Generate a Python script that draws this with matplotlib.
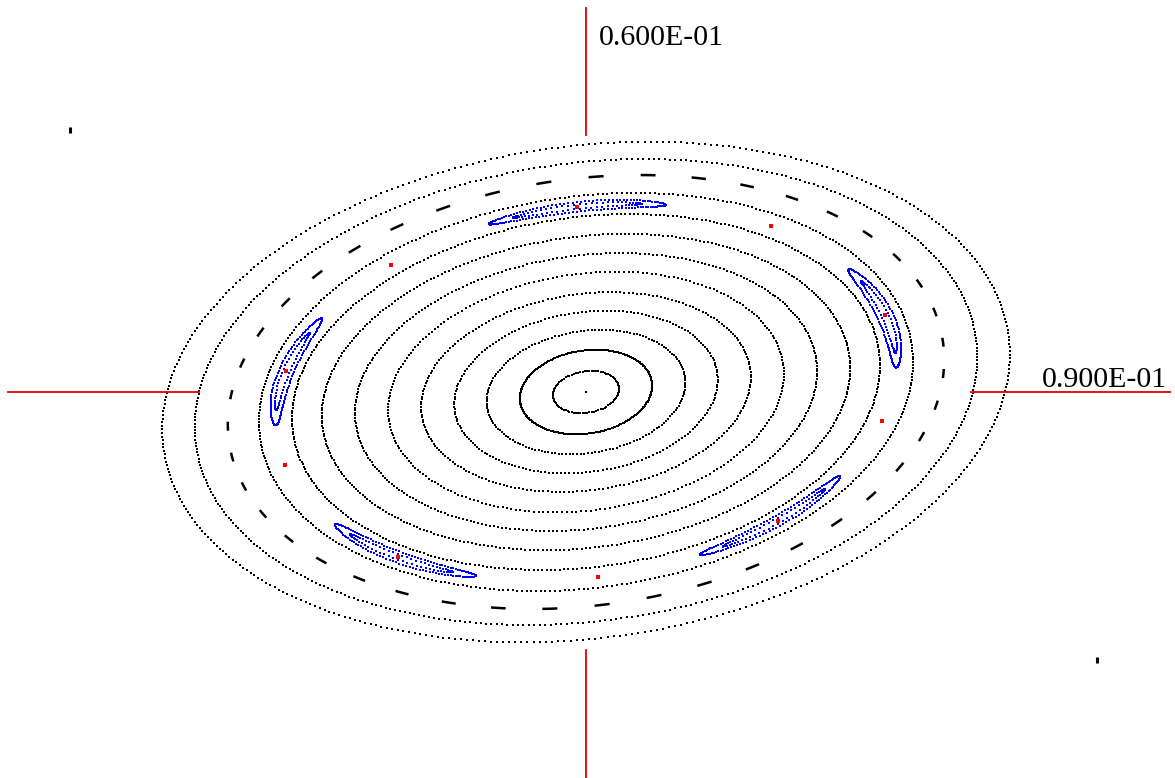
import numpy as np
import matplotlib
matplotlib.use("Agg")
import matplotlib.pyplot as plt

# Tracked orbits (x half-width, x' half-width) and number of turns plotted
orbit_x = [0.0051, 0.0102, 0.0153, 0.0203, 0.0254, 0.0305, 0.0356,
           0.0407, 0.0453, 0.0504, 0.0603, 0.0653]
orbit_y = [0.0033, 0.0066, 0.0097, 0.0127, 0.0156, 0.0188, 0.0217,
           0.0247, 0.0278, 0.0311, 0.0364, 0.0391]
orbit_turns = [90, 300, 170, 200, 240, 260, 330, 380, 420, 430, 450, 430]

# Orbit close to the 5th order resonance (shows up as dashes)
dashed_x = 0.0552
dashed_y = 0.0339
n_dashes = 43

# Common tilt of the phase-space ellipses
tilt = 0.15

# Island chain: centre orbit size and phases of the fixed points
island_x = 0.0478
island_y = 0.0294
island_phase = [0.27, 1.60, 2.88, 4.06, 5.38]
xpoint_phase = [0.93, 2.25, 3.39, 4.75, 5.98]

# Axis limits written on the plot
x_label = "0.900E-01"
y_label = "0.600E-01"
x_max = 0.09
y_max = 0.06
frame_marks = [(-0.0795, 0.0409), (0.0788, -0.0419)]


def ellipse(a, b, t):
    return a * np.cos(t), b * np.sin(t + tilt)


fig = plt.figure(figsize=(11.75, 7.78), dpi=100)
ax = fig.add_axes([0, 0, 1, 1])
ax.set_xlim(-0.09031, 0.09077)
ax.set_ylim(-0.06031, 0.06125)
ax.axis("off")

# axes cross
red = "#e00000"
ax.plot([0, 0], [0.0402, y_max], color=red, lw=1.3)
ax.plot([0, 0], [-0.0403, -y_max - 0.0003], color=red, lw=1.3)
ax.plot([-x_max + 0.0009, -0.0596], [0, 0], color=red, lw=1.3)
ax.plot([0.0593, x_max], [0, 0], color=red, lw=1.3)
ax.text(0.0020, 0.0542, y_label, family="Liberation Serif", fontsize=21.5,
        va="baseline", ha="left")
ax.text(0.0702, 0.0008, x_label, family="Liberation Serif", fontsize=21.5,
        va="baseline", ha="left")

for fx, fy in frame_marks:
    ax.plot([fx, fx], [fy - 0.0005, fy + 0.0005], color="k", lw=2.2,
            solid_capstyle="butt")

# closed orbit
ax.scatter([0], [0], s=3, marker="s", c="k", lw=0)

# regular orbits, inner ones drawn a bit heavier
for i, (a, b, n) in enumerate(zip(orbit_x, orbit_y, orbit_turns)):
    t = np.linspace(0, 2 * np.pi, n, endpoint=False)
    x, y = ellipse(a, b, t)
    ax.scatter(x, y, s=2.2 if i < 8 else 1.5, marker="s", c="k", lw=0)

# near-resonant orbit: short arcs at evenly spaced phases
for k in range(n_dashes):
    tc = 3.15 + k * 2 * np.pi / n_dashes
    t = np.linspace(tc - 0.021, tc + 0.021, 12)
    x, y = ellipse(dashed_x, dashed_y, t)
    ax.plot(x, y, color="k", lw=1.8, solid_capstyle="butt")

# islands around the stable fixed points
u = np.linspace(0, 2 * np.pi, 140, endpoint=False)
for tc in island_phase:
    for hw, dr, n, sz in [(0.29, 0.026, 140, 2.2), (0.21, 0.012, 70, 1.6)]:
        uu = u[:: 140 // n]
        t = tc + hw * np.cos(uu)
        s = 1 + dr * np.sin(uu)
        x, y = ellipse(island_x * s, island_y * s, t)
        ax.scatter(x, y, s=sz, marker="s", c="#0000ff", lw=0)

# fixed points
for ph in island_phase + xpoint_phase:
    x, y = ellipse(island_x, island_y, np.array([ph]))
    ax.scatter(x, y, s=5, marker="s", c="#ff0000", lw=0)

fig.savefig("out.png", dpi=100)
